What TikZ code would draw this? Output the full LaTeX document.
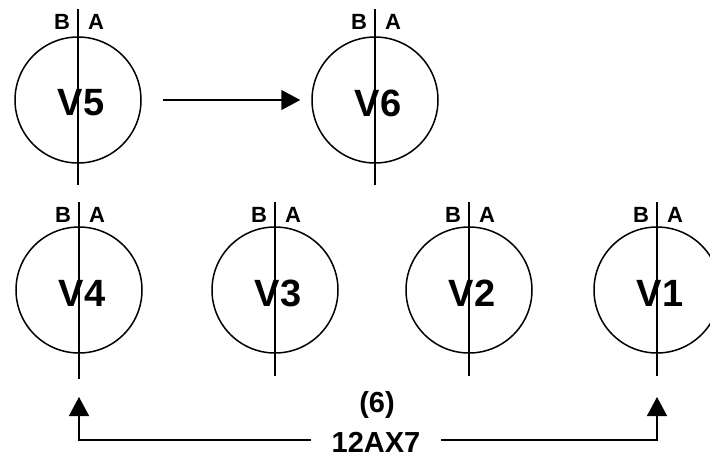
\documentclass[tikz,border=0pt]{standalone}
\usepackage{fontspec}
\setmainfont{Liberation Sans}
\usetikzlibrary{arrows.meta}
\tikzset{
  tubecircle/.style={draw, circle, line width=1.5pt, minimum size=126pt, inner sep=0pt},
  tubeline/.style={line width=1.5pt},
  tubename/.style={font=\fontsize{38}{40}\selectfont\bfseries, inner sep=0pt},
  sidelabel/.style={font=\fontsize{22}{24}\selectfont\bfseries, inner sep=0pt},
  biglabel/.style={font=\fontsize{29}{31}\selectfont\bfseries, inner sep=0pt},
  conn/.style={line width=1.5pt, -{Triangle[length=19pt,width=20pt]}},
}
\newcommand{\mytube}[6]{%
  % #1 name, #2 x, #3 y, #4 line top, #5 line bottom, #6 label y
  \node[tubecircle] (#1) at (#2,#3) {};
  \coordinate (#1top) at (#2,#4);
  \coordinate (#1bot) at (#2,#5);
  \draw[tubeline] (#1top) -- (#1bot);
  \node[sidelabel] (#1B) at ([xshift=-16pt]#2,#6) {B};
  \node[sidelabel] (#1A) at ([xshift=18pt]#2,#6) {A};
  \node[tubename] (#1n) at ([xshift=3pt]#2,#3+3) {#1};
}
\begin{document}
\begin{tikzpicture}[x=1pt,y=-1pt]
\useasboundingbox (0,0) rectangle (710,456);
\mytube{V5}{78}{100}{9}{185}{22}
\mytube{V6}{375}{100}{9}{185}{22}
\mytube{V4}{79}{290}{202}{379}{215}
\mytube{V3}{275}{290}{202}{376}{215}
\mytube{V2}{469}{290}{202}{376}{215}
\mytube{V1}{657}{290}{202}{376}{215}
\draw[conn] ([xshift=21pt]V5.east) -- ([xshift=-11pt]V6.west);
\node[biglabel] (six) at (377,405) {(6)};
\node[biglabel, inner xsep=20pt] (tube) at (376,442) {12AX7};
\coordinate (V4tip) at (79,397);
\coordinate (V1tip) at (657,397);
\draw[conn] ([yshift=2pt]tube.west) -| (V4tip);
\draw[conn] ([yshift=2pt]tube.east) -| (V1tip);
\end{tikzpicture}
\end{document}
